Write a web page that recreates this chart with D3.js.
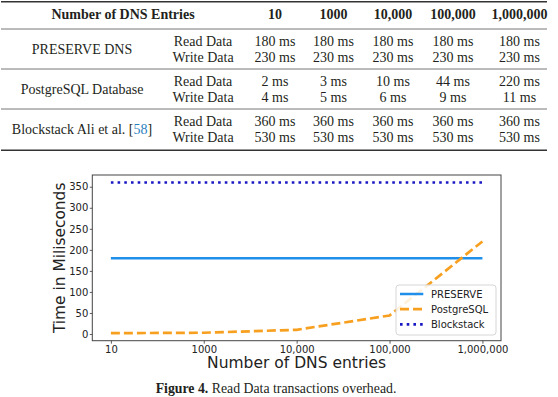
<!DOCTYPE html>
<html>
<head>
<meta charset="utf-8">
<script src="https://cdn.jsdelivr.net/npm/d3@7"></script>
<style>
  body { margin: 0; background: #fff; }
</style>
</head>
<body>
<script>
// table + chart data
var entries = ["10", "1000", "10,000", "100,000", "1,000,000"];
var systems = ["PRESERVE DNS", "PostgreSQL Database", "Blockstack Ali et al. "];
var operations = ["Read Data", "Write Data"];
var preserveRead = [180, 180, 180, 180, 180];
var preserveWrite = [230, 230, 230, 230, 230];
var postgresRead = [2, 3, 10, 44, 220];
var postgresWrite = [4, 5, 6, 9, 11];
var blockstackRead = [360, 360, 360, 360, 360];
var blockstackWrite = [530, 530, 530, 530, 530];
var seriesNames = ["PRESERVE", "PostgreSQL", "Blockstack"];
var yTicks = [0, 50, 100, 150, 200, 250, 300, 350];

var width = 558, height = 397;
var serif = "'Liberation Serif', 'Times New Roman', serif";
var sans = "'DejaVu Sans', sans-serif";

var svg = d3.select("body")
            .append("svg")
            .attr("width", width)
            .attr("height", height);

svg.append("rect").attr("width", width).attr("height", height).attr("fill", "#fff");

// ---------- table ----------
var tableRows = [
  [preserveRead, preserveWrite],
  [postgresRead, postgresWrite],
  [blockstackRead, blockstackWrite]
];
var colX = [275, 333.5, 393, 453, 519.5];
var nameX = 82, opX = 203;
var rowTop = [29, 69, 109];
var rowH = 40;

svg.append("line").attr("x1", 1).attr("x2", 547).attr("y1", 1.8).attr("y2", 1.8)
   .attr("stroke", "#333").attr("stroke-width", 1.6);
svg.append("line").attr("x1", 1).attr("x2", 547).attr("y1", 150.3).attr("y2", 150.3)
   .attr("stroke", "#333").attr("stroke-width", 1.6);
rowTop.forEach(function(t) {
  svg.append("line").attr("x1", 1).attr("x2", 547).attr("y1", t).attr("y2", t)
     .attr("stroke", "#777").attr("stroke-width", 1);
});

svg.append("text")
   .attr("x", 123).attr("y", 14).attr("dy", "0.35em")
   .attr("text-anchor", "middle")
   .attr("font-family", serif).attr("font-size", 14).attr("font-weight", "bold")
   .attr("fill", "#231f20")
   .text("Number of DNS Entries");

entries.forEach(function(e, i) {
  svg.append("text")
     .attr("x", colX[i]).attr("y", 14).attr("dy", "0.35em")
     .attr("text-anchor", "middle")
     .attr("font-family", serif).attr("font-size", 14).attr("font-weight", "bold")
     .attr("fill", "#231f20")
     .text(e);
});

tableRows.forEach(function(r, k) {
  var rt = rowTop[k];
  var name = svg.append("text")
     .attr("x", nameX).attr("y", rt + rowH / 2).attr("dy", "0.35em")
     .attr("text-anchor", "middle")
     .attr("font-family", serif).attr("font-size", 14)
     .attr("fill", "#231f20")
     .text(systems[k]);
  if (k === 2) {
    name.append("tspan").text("[");
    name.append("tspan").attr("fill", "#2a7fc1").text("58");
    name.append("tspan").text("]");
  }
  operations.forEach(function(op, j) {
    var yy = rt + 12 + j * 16;
    svg.append("text")
       .attr("x", opX).attr("y", yy).attr("dy", "0.35em")
       .attr("text-anchor", "middle")
       .attr("font-family", serif).attr("font-size", 14)
       .attr("fill", "#231f20")
       .text(op);
    r[j].forEach(function(v, i) {
      svg.append("text")
         .attr("x", colX[i]).attr("y", yy).attr("dy", "0.35em")
         .attr("text-anchor", "middle")
         .attr("font-family", serif).attr("font-size", 14)
         .attr("fill", "#231f20")
         .text(v + " ms");
    });
  });
});

// ---------- chart ----------
var plotLeft = 92.3, plotRight = 501, plotTop = 175, plotBottom = 340.7;
var x = d3.scaleLinear().domain([-0.2, 4.2]).range([plotLeft, plotRight]);
var y = d3.scaleLinear().domain([-15.9, 377.9]).range([plotBottom, plotTop]);

var series = [
  {name: seriesNames[0], values: preserveRead, color: "#1f8fea", width: 2.5, dash: null},
  {name: seriesNames[1], values: postgresRead, color: "#f7a020", width: 2.7, dash: "9,4"},
  {name: seriesNames[2], values: blockstackRead, color: "#1818c4", width: 2.6, dash: "2.6,4.1"}
];

var line = d3.line()
             .x(function(d, i) { return x(i); })
             .y(function(d) { return y(d); });

var plot = svg.append("g");

series.forEach(function(s) {
  plot.append("path")
      .datum(s.values)
      .attr("d", line)
      .attr("fill", "none")
      .attr("stroke", s.color)
      .attr("stroke-width", s.width)
      .attr("stroke-dasharray", s.dash);
});

var xAxis = svg.append("g")
   .attr("transform", "translate(0," + plotBottom + ")")
   .call(d3.axisBottom(x)
           .tickValues(d3.range(entries.length))
           .tickFormat(function(i) { return entries[i]; })
           .tickSize(3)
           .tickPadding(2.5));

var yAxis = svg.append("g")
   .attr("transform", "translate(" + plotLeft + ",0)")
   .call(d3.axisLeft(y)
           .tickValues(yTicks)
           .tickSize(2.5)
           .tickPadding(1.5));

[xAxis, yAxis].forEach(function(ax) {
  ax.select(".domain").remove();
  ax.selectAll("line").attr("stroke", "#333").attr("stroke-width", 0.8);
  ax.selectAll("text")
    .attr("font-family", sans)
    .attr("font-size", 10)
    .attr("fill", "#222");
});

svg.append("rect")
   .attr("x", plotLeft).attr("y", plotTop)
   .attr("width", plotRight - plotLeft).attr("height", plotBottom - plotTop)
   .attr("fill", "none")
   .attr("stroke", "#444")
   .attr("stroke-width", 1);

svg.append("text")
   .attr("x", (plotLeft + plotRight) / 2).attr("y", 368)
   .attr("text-anchor", "middle")
   .attr("font-family", sans).attr("font-size", 15.5)
   .attr("fill", "#222")
   .text("Number of DNS entries");

svg.append("text")
   .attr("transform", "translate(65," + (plotTop + plotBottom) / 2 + ") rotate(-90)")
   .attr("text-anchor", "middle")
   .attr("font-family", sans).attr("font-size", 15.4)
   .attr("fill", "#222")
   .text("Time in Miliseconds");

// legend
var legend = svg.append("g");
legend.append("rect")
      .attr("x", 396).attr("y", 285)
      .attr("width", 100).attr("height", 50)
      .attr("rx", 3)
      .attr("fill", "#fff").attr("fill-opacity", 0.85)
      .attr("stroke", "#d6d6d6").attr("stroke-width", 1);

series.forEach(function(s, i) {
  var ly = 294 + i * 15.2;
  legend.append("line")
        .attr("x1", 400).attr("x2", 423.3)
        .attr("y1", ly).attr("y2", ly)
        .attr("stroke", s.color)
        .attr("stroke-width", s.width)
        .attr("stroke-dasharray", s.dash);
  legend.append("text")
        .attr("x", 431).attr("y", ly).attr("dy", "0.35em")
        .attr("font-family", sans).attr("font-size", 10)
        .attr("fill", "#222")
        .text(s.name);
});

// caption
var cap = svg.append("text")
   .attr("x", 276).attr("y", 393)
   .attr("text-anchor", "middle")
   .attr("font-family", serif).attr("font-size", 13.8)
   .attr("fill", "#231f20");
cap.append("tspan").attr("font-weight", "bold").text("Figure 4.");
cap.append("tspan").text(" Read Data transactions overhead.");
</script>
</body>
</html>
